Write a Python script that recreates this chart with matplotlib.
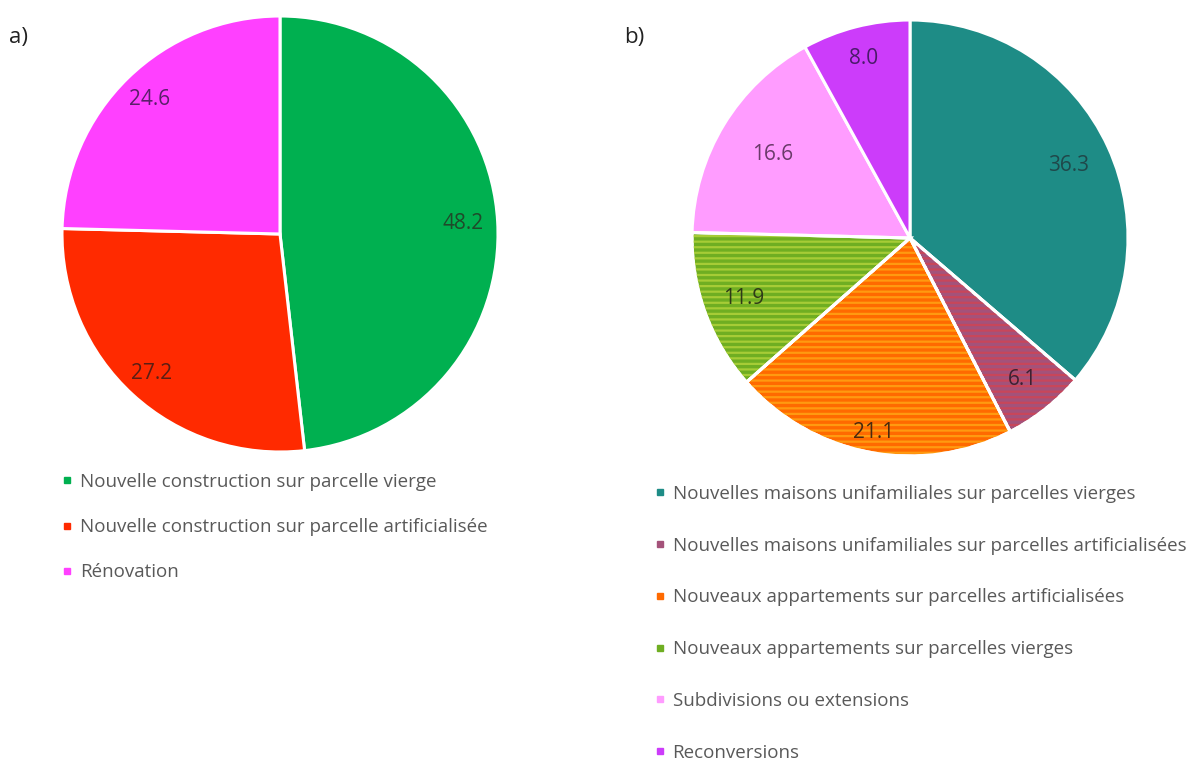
import matplotlib.pyplot as plt
import numpy as np
from matplotlib.lines import Line2D
from matplotlib.patches import Wedge

plt.rcParams['font.family'] = ['Open Sans', 'DejaVu Sans']
plt.rcParams['hatch.linewidth'] = 1.6

# a) share of new housing by construction type (%)
labels_a = [
    "Nouvelle construction sur parcelle vierge",
    "Nouvelle construction sur parcelle artificialisée",
    "Rénovation",
]
values_a = [48.2, 27.2, 24.6]
colors_a = ["#00B050", "#FF2A00", "#FF40FF"]
text_colors_a = ["#1F4A2A", "#5A1E14", "#5A1F6A"]

# b) detailed breakdown (%)
labels_b = [
    "Nouvelles maisons unifamiliales sur parcelles vierges",
    "Nouvelles maisons unifamiliales sur parcelles artificialisées",
    "Nouveaux appartements sur parcelles artificialisées",
    "Nouveaux appartements sur parcelles vierges",
    "Subdivisions ou extensions",
    "Reconversions",
]
values_b = [36.3, 6.1, 21.1, 11.9, 16.6, 8.0]
colors_b = ["#1E8C86", "#A4527A", "#FF6A00", "#6FAE22", "#FF9CFF", "#CC3CFA"]
stripe_colors_b = [None, "#C8465A", "#FF9A10", "#A6CC36", None, None]
text_colors_b = ["#20484A", "#3E2030", "#4A2A10", "#2E3A18", "#6A3A6A", "#4A1A6A"]

# radial position of each value label (fraction of the radius)
label_r_a = [0.84, 0.87, 0.86]
label_r_b = [0.80, 0.83, 0.91, 0.81, 0.74, 0.85]

W, H = 1192, 763
fig = plt.figure(figsize=(W / 100, H / 100), dpi=100)


def pie_axes(cx, cy, r):
    return fig.add_axes([(cx - r) / W, (H - cy - r) / H, 2 * r / W, 2 * r / H])


def draw_pie(ax, values, colors, text_colors, label_r, stripes=None):
    wedges, texts = ax.pie(
        values, colors=colors, startangle=90, counterclock=False,
        labels=[f"{v:.1f}" for v in values],
        wedgeprops=dict(edgecolor="white", linewidth=2.2),
        textprops=dict(fontsize=15),
    )
    for w, t, c, d in zip(wedges, texts, text_colors, label_r):
        ang = np.deg2rad((w.theta1 + w.theta2) / 2)
        t.set_position((d * np.cos(ang), d * np.sin(ang)))
        t.set_color(c)
        t.set_ha("center")
        t.set_va("center")
        t.set_zorder(3)
    if stripes:
        for w, sc in zip(wedges, stripes):
            if sc is None:
                continue
            ax.add_patch(Wedge(w.center, w.r, w.theta1, w.theta2, fill=False,
                               edgecolor=sc, linewidth=0, hatch="---", zorder=1.5))
            ax.add_patch(Wedge(w.center, w.r, w.theta1, w.theta2, fill=False,
                               edgecolor="white", linewidth=2.2, zorder=1.6))
    ax.set_xlim(-1, 1)
    ax.set_ylim(-1, 1)
    ax.set_aspect("equal")
    return wedges


ax_a = pie_axes(280, 234, 218)
draw_pie(ax_a, values_a, colors_a, text_colors_a, label_r_a)
ax_b = pie_axes(910, 238, 218)
draw_pie(ax_b, values_b, colors_b, text_colors_b, label_r_b, stripe_colors_b)

fig.text(9 / W, 1 - 38 / H, "a)", fontsize=16, va="center", ha="left", color="#222222")
fig.text(624 / W, 1 - 38 / H, "b)", fontsize=16, va="center", ha="left", color="#222222")


def square(c):
    return Line2D([], [], marker="s", linestyle="none", markersize=5,
                  markerfacecolor=c, markeredgecolor=c)


fig.legend([square(c) for c in colors_a], labels_a, loc="upper left",
           bbox_to_anchor=(44 / W, 1 - 456 / H), frameon=False,
           fontsize=13.5, handlelength=0.6, handletextpad=0.4,
           labelspacing=1.45, labelcolor="#595959")
fig.legend([square(c) for c in colors_b], labels_b, loc="upper left",
           bbox_to_anchor=(637 / W, 1 - 468 / H), frameon=False,
           fontsize=13.5, handlelength=0.6, handletextpad=0.4,
           labelspacing=1.8, labelcolor="#595959")

fig.savefig("out.png", dpi=100, facecolor="white")
